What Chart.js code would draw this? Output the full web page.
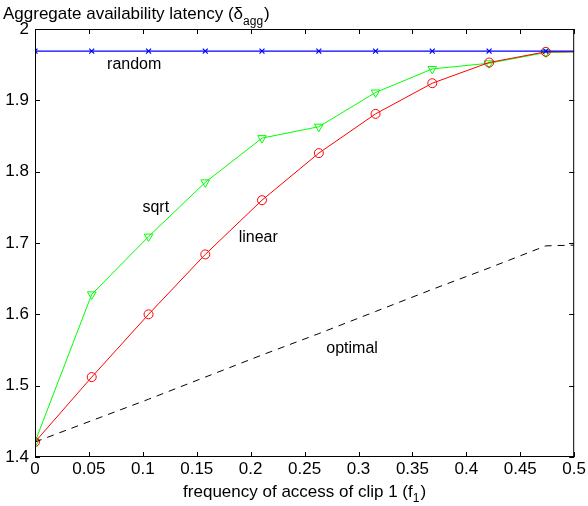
<!DOCTYPE html>
<html>
<head>
<meta charset="utf-8">
<script src="https://cdn.jsdelivr.net/npm/chart.js@4.4.0/dist/chart.umd.min.js"></script>
<style>
  html, body { margin: 0; padding: 0; background: #fff; }
  #wrap { width: 588px; height: 506px; }
</style>
</head>
<body>
<div id="wrap"><canvas id="chart" width="588" height="506"></canvas></div>
<script>
// data
const freq = [0, 0.0526, 0.1053, 0.1579, 0.2105, 0.2632, 0.3158, 0.3684, 0.4211, 0.4737, 0.5];
const randomVals  = [1.969, 1.969, 1.969, 1.969, 1.969, 1.969, 1.969, 1.969, 1.969, 1.969, 1.969];
const sqrtVals    = [1.421, 1.628, 1.709, 1.785, 1.847, 1.863, 1.911, 1.944, 1.952, 1.967, 1.968];
const linearVals  = [1.421, 1.512, 1.600, 1.684, 1.760, 1.826, 1.881, 1.924, 1.953, 1.968, 1.968];
const optimalVals = [1.421, 1.451, 1.481, 1.512, 1.543, 1.573, 1.604, 1.635, 1.665, 1.696, 1.697];

// curve labels placed in data coords
const curveLabels = [
    { text: 'random',  x: 0.092,  y: 1.950 },
    { text: 'sqrt',    x: 0.112,  y: 1.750 },
    { text: 'linear',  x: 0.207,  y: 1.708 },
    { text: 'optimal', x: 0.294,  y: 1.552 }
];

const xTicks = [0, 0.05, 0.1, 0.15, 0.2, 0.25, 0.3, 0.35, 0.4, 0.45, 0.5];
const yTicks = [1.4, 1.5, 1.6, 1.7, 1.8, 1.9, 2];

const FONT = 'Liberation Sans, Arial, Helvetica, sans-serif';

function pts(vals) {
    return freq.map((f, i) => ({ x: f, y: vals[i] }));
}
// no marker on the last point (at the right edge)
const markerRadius = (r) => freq.map((f, i) => i === freq.length - 1 ? 0 : r);

// frame, inward ticks, texts
const framePlugin = {
    id: 'frame',
    afterDraw(chart) {
        const ctx = chart.ctx;
        const a = chart.chartArea;
        const xs = chart.scales.x, ys = chart.scales.y;
        ctx.save();
        ctx.strokeStyle = '#000';
        ctx.lineWidth = 1;
        ctx.strokeRect(a.left + 0.5, a.top + 0.5, a.right - a.left - 1, a.bottom - a.top - 1);
        ctx.beginPath();
        xTicks.forEach(v => {
            const px = Math.round(xs.getPixelForValue(v)) + 0.5;
            ctx.moveTo(px, a.bottom); ctx.lineTo(px, a.bottom - 5);
            ctx.moveTo(px, a.top); ctx.lineTo(px, a.top + 5);
        });
        yTicks.forEach(v => {
            const py = Math.round(ys.getPixelForValue(v)) + 0.5;
            ctx.moveTo(a.left, py); ctx.lineTo(a.left + 5, py);
            ctx.moveTo(a.right, py); ctx.lineTo(a.right - 5, py);
        });
        ctx.stroke();

        // curve labels
        ctx.fillStyle = '#000';
        ctx.font = '16px ' + FONT;
        ctx.textAlign = 'center';
        ctx.textBaseline = 'middle';
        curveLabels.forEach(l => {
            ctx.fillText(l.text, xs.getPixelForValue(l.x), ys.getPixelForValue(l.y));
        });

        // title with subscript
        ctx.textAlign = 'left';
        ctx.textBaseline = 'alphabetic';
        ctx.font = '17px ' + FONT;
        const t1 = 'Aggregate availability latency (\u03b4';
        ctx.fillText(t1, 3, 19);
        let w = ctx.measureText(t1).width;
        ctx.font = '12px ' + FONT;
        ctx.fillText('agg', 3 + w, 25);
        const w2 = ctx.measureText('agg').width;
        ctx.font = '17px ' + FONT;
        ctx.fillText(')', 3 + w + w2 + 1, 19);

        // x axis title with subscript
        ctx.font = '17px ' + FONT;
        const s1 = 'frequency of access of clip 1 (f';
        const sw1 = ctx.measureText(s1).width;
        ctx.font = '12px ' + FONT;
        const sw2 = ctx.measureText('1').width;
        ctx.font = '17px ' + FONT;
        const sw3 = ctx.measureText(')').width;
        const start = (a.left + a.right) / 2 - (sw1 + sw2 + sw3 + 1) / 2;
        ctx.fillText(s1, start, 497);
        ctx.font = '12px ' + FONT;
        ctx.fillText('1', start + sw1, 502);
        ctx.font = '17px ' + FONT;
        ctx.fillText(')', start + sw1 + sw2 + 1, 497);
        ctx.restore();
    }
};

const ctx = document.getElementById('chart').getContext('2d');
const chart = new Chart(ctx, {
    type: 'line',
    data: {
        datasets: [
            {
                label: 'random',
                data: pts(randomVals),
                borderColor: '#0000ff',
                borderWidth: 1.2,
                pointStyle: 'crossRot',
                pointRadius: markerRadius(3.5),
                pointBorderColor: '#0000ff',
                pointBorderWidth: 1.2,
                fill: false
            },
            {
                label: 'optimal',
                data: pts(optimalVals),
                borderColor: '#000',
                borderWidth: 1,
                borderDash: [7, 6],
                pointRadius: 0,
                fill: false
            },
            {
                label: 'linear',
                data: pts(linearVals),
                borderColor: '#ff0000',
                borderWidth: 1,
                pointStyle: 'circle',
                pointRadius: markerRadius(4.5),
                pointBorderColor: '#ff0000',
                pointBackgroundColor: 'rgba(0,0,0,0)',
                pointBorderWidth: 1,
                fill: false
            },
            {
                label: 'sqrt',
                data: pts(sqrtVals),
                borderColor: '#00ff00',
                borderWidth: 1,
                pointStyle: 'triangle',
                pointRotation: 180,
                pointRadius: markerRadius(5),
                pointBorderColor: '#00ff00',
                pointBackgroundColor: 'rgba(0,0,0,0)',
                pointBorderWidth: 1,
                fill: false
            }
        ]
    },
    options: {
        responsive: false,
        animation: false,
        layout: { padding: { top: 29, right: 12, left: 0, bottom: 0 } },
        plugins: {
            legend: { display: false },
            tooltip: { enabled: false }
        },
        scales: {
            x: {
                type: 'linear',
                min: 0,
                max: 0.5,
                afterFit: (s) => { s.height = 49; },
                afterBuildTicks: (s) => { s.ticks = xTicks.map(v => ({ value: v })); },
                grid: { display: false, drawTicks: false },
                border: { display: false },
                ticks: {
                    padding: 2,
                    color: '#000',
                    font: { family: FONT, size: 17 },
                    maxRotation: 0,
                    callback: (v) => String(Number(v.toFixed(2)))
                }
            },
            y: {
                type: 'linear',
                min: 1.4,
                max: 2,
                afterFit: (s) => { s.width = 35; },
                afterBuildTicks: (s) => { s.ticks = yTicks.map(v => ({ value: v })); },
                grid: { display: false, drawTicks: false },
                border: { display: false },
                ticks: {
                    padding: 6,
                    color: '#000',
                    font: { family: FONT, size: 17 },
                    callback: (v) => String(Number(v.toFixed(1)))
                }
            }
        }
    },
    plugins: [framePlugin]
});
</script>
</body>
</html>
